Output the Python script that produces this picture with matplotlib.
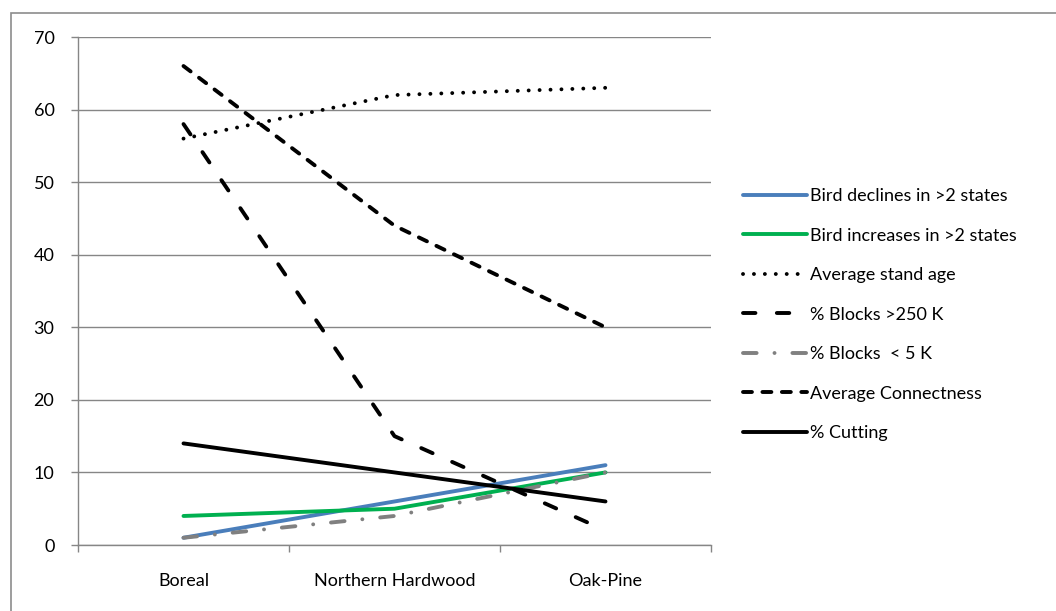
import matplotlib.pyplot as plt
from matplotlib.patches import Rectangle

# categories and series
regions = ["Boreal", "Northern Hardwood", "Oak-Pine"]
bird_declines = [1, 6, 11]
bird_increases = [4, 5, 10]
stand_age = [56, 62, 63]
blocks_250k = [58, 15, 2]
blocks_5k = [1, 4, 10]
connectness = [66, 44, 30]
cutting = [14, 10, 6]

yticks = [0, 10, 20, 30, 40, 50, 60, 70]

plt.rcParams["font.family"] = ["Lato", "DejaVu Sans"]

fig = plt.figure(figsize=(10.56, 6.11), dpi=100)
ax = fig.add_axes([78 / 1056, 66 / 611, 633 / 1056, 508 / 611])

# outer chart border (only top and left visible in the reference)
fig.patches.append(Rectangle((11 / 1056, -0.1), 1.2, (598 / 611) + 0.1,
                             transform=fig.transFigure, fill=False,
                             edgecolor="#8c8c8c", lw=1.2))

x = range(len(regions))
lw = 2.8
ax.plot(x, bird_declines, color="#4a7ebb", lw=lw, solid_capstyle="round",
        label="Bird declines in >2 states", zorder=3)
ax.plot(x, bird_increases, color="#00b050", lw=lw, solid_capstyle="round",
        label="Bird increases in >2 states", zorder=3)
ax.plot(x, stand_age, color="black", lw=lw, dash_capstyle="round",
        dashes=(0.01, 2.8), label="Average stand age", zorder=3)
ax.plot(x, blocks_250k, color="black", lw=lw, dash_capstyle="round",
        dashes=(3.2, 5.5), label="% Blocks >250 K", zorder=3)
ax.plot(x, blocks_5k, color="#808080", lw=lw, dash_capstyle="round",
        dashes=(3.5, 4.6, 0.01, 4.6), label="% Blocks  < 5 K", zorder=3)
ax.plot(x, connectness, color="black", lw=lw, dash_capstyle="round",
        dashes=(2.3, 2.7), label="Average Connectness", zorder=3)
ax.plot(x, cutting, color="black", lw=lw, solid_capstyle="round",
        label="% Cutting", zorder=3)

ax.set_xlim(-0.5, len(regions) - 0.5)
ax.set_ylim(0, 70)
ax.set_yticks(yticks)
ax.set_xticks([i - 0.5 for i in range(len(regions) + 1)])
ax.set_xticklabels([])
ax.set_xticks(list(x), minor=True)
ax.set_xticklabels(regions, minor=True)
ax.tick_params(axis="x", which="minor", length=0, pad=20, labelsize=13)
ax.tick_params(axis="x", which="major", length=5, color="#868686", width=1)
ax.tick_params(axis="y", length=5, color="#868686", width=1, pad=12, labelsize=13)

ax.grid(axis="y", color="#868686", lw=1)
ax.set_axisbelow(True)
for s in ["top", "right"]:
    ax.spines[s].set_visible(False)
for s in ["left", "bottom"]:
    ax.spines[s].set_color("#868686")
    ax.spines[s].set_linewidth(1)

ax.legend(loc="upper left", bbox_to_anchor=(736 / 1056, 1 - 181 / 611),
          bbox_transform=fig.transFigure, frameon=False, fontsize=13,
          handlelength=3.55, handletextpad=0.15, labelspacing=1.3,
          borderaxespad=0)

fig.savefig("out.png", dpi=100)
